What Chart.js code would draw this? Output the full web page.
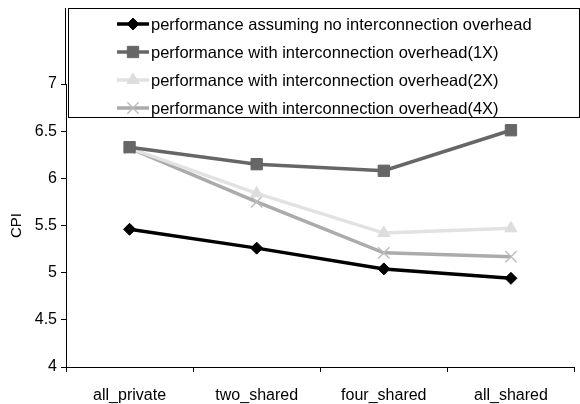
<!DOCTYPE html>
<html>
<head>
<meta charset="utf-8">
<script src="https://cdn.jsdelivr.net/npm/chart.js@4"></script>
<style>
  html, body { margin: 0; padding: 0; background: #fff; overflow: hidden; }
  #wrap { width: 580px; height: 404px; overflow: hidden; }
</style>
</head>
<body>
<div id="wrap"><canvas id="cpiChart" width="584" height="404"></canvas></div>
<script>
// dados
const categories = ['all_private', 'two_shared', 'four_shared', 'all_shared'];
const noOverhead = [5.46, 5.26, 5.04, 4.94];
const overhead1x = [6.33, 6.15, 6.08, 6.51];
const overhead2x = [6.32, 5.84, 5.42, 5.47];
const overhead4x = [6.32, 5.75, 5.21, 5.17];
const yTicks = [4, 4.5, 5, 5.5, 6, 6.5, 7];

const FONT = '"Liberation Sans", Arial, sans-serif';

// legenda desenhada dentro da área do gráfico, como no original
const boxLegend = {
  id: 'boxLegend',
  afterDraw(chart) {
    const ctx = chart.ctx;
    const area = chart.chartArea;
    ctx.save();
    // eixo Y continua acima do 7
    ctx.strokeStyle = '#000';
    ctx.lineWidth = 1;
    ctx.beginPath();
    ctx.moveTo(area.left - 0.5, 8);
    ctx.lineTo(area.left - 0.5, area.top);
    ctx.stroke();

    ctx.fillStyle = '#fff';
    ctx.fillRect(68, 8, 511, 109);
    ctx.strokeRect(68.5, 8.5, 511, 109);

    chart.data.datasets.forEach((ds, i) => {
      const y = 24 + i * 28;
      ctx.strokeStyle = ds.borderColor;
      ctx.lineWidth = ds.borderWidth;
      ctx.beginPath();
      ctx.moveTo(117, y);
      ctx.lineTo(149, y);
      ctx.stroke();

      ctx.fillStyle = ds.pointBackgroundColor;
      ctx.strokeStyle = ds.pointBorderColor;
      ctx.lineWidth = ds.pointBorderWidth;
      Chart.helpers.drawPoint(ctx, {
        pointStyle: ds.pointStyle,
        radius: ds.pointRadius,
        rotation: 0,
        borderWidth: ds.pointBorderWidth
      }, 133, y);

      ctx.font = '16.5px ' + FONT;
      ctx.textBaseline = 'middle';
      ctx.fillStyle = '#000';
      ctx.fillText(ds.label, 151, y + 1);
    });
    ctx.restore();
  }
};

function serie(label, data, color, markColor, style, radius, width) {
  return {
    label: label,
    data: data,
    borderColor: color,
    borderWidth: width,
    backgroundColor: markColor,
    pointStyle: style,
    pointRadius: radius,
    pointHoverRadius: radius,
    pointBackgroundColor: markColor,
    pointBorderColor: markColor,
    pointBorderWidth: style === 'crossRot' ? 1.5 : 1,
    tension: 0,
    clip: false
  };
}

new Chart(document.getElementById('cpiChart'), {
  type: 'line',
  data: {
    labels: categories,
    datasets: [
      serie('performance assuming no interconnection overhead', noOverhead, '#000000', '#000000', 'rectRot', 6, 3.5),
      serie('performance with interconnection overhead(1X)', overhead1x, '#666666', '#666666', 'rect', 8, 3.5),
      serie('performance with interconnection overhead(2X)', overhead2x, '#e2e2e2', '#dddddd', 'triangle', 7, 3.5),
      serie('performance with interconnection overhead(4X)', overhead4x, '#ababab', '#bdbdbd', 'crossRot', 8, 3.5)
    ]
  },
  options: {
    responsive: false,
    animation: false,
    layout: { padding: { left: 0, top: 84, right: 2, bottom: 0 } },
    plugins: { legend: { display: false }, tooltip: { enabled: false } },
    scales: {
      x: {
        offset: true,
        grid: { offset: true, drawOnChartArea: false, tickLength: 5, color: '#000' },
        border: { color: '#000', width: 1 },
        ticks: { color: '#000', font: { family: FONT, size: 16 }, padding: 14, maxRotation: 0 },
        afterFit(scale) { scale.height = 37; }
      },
      y: {
        min: 4,
        max: 7,
        afterBuildTicks(scale) { scale.ticks = yTicks.map(v => ({ value: v })); },
        grid: { drawOnChartArea: false, tickLength: 5, color: '#000' },
        border: { color: '#000', width: 1 },
        ticks: {
          color: '#000',
          font: { family: FONT, size: 16 },
          padding: 4,
          callback: v => String(v)
        },
        title: { display: true, text: 'CPI', color: '#000', font: { family: FONT, size: 15 }, padding: { top: 8, bottom: 0 } },
        afterFit(scale) { scale.width = 66; }
      }
    }
  },
  plugins: [boxLegend]
});
</script>
</body>
</html>
